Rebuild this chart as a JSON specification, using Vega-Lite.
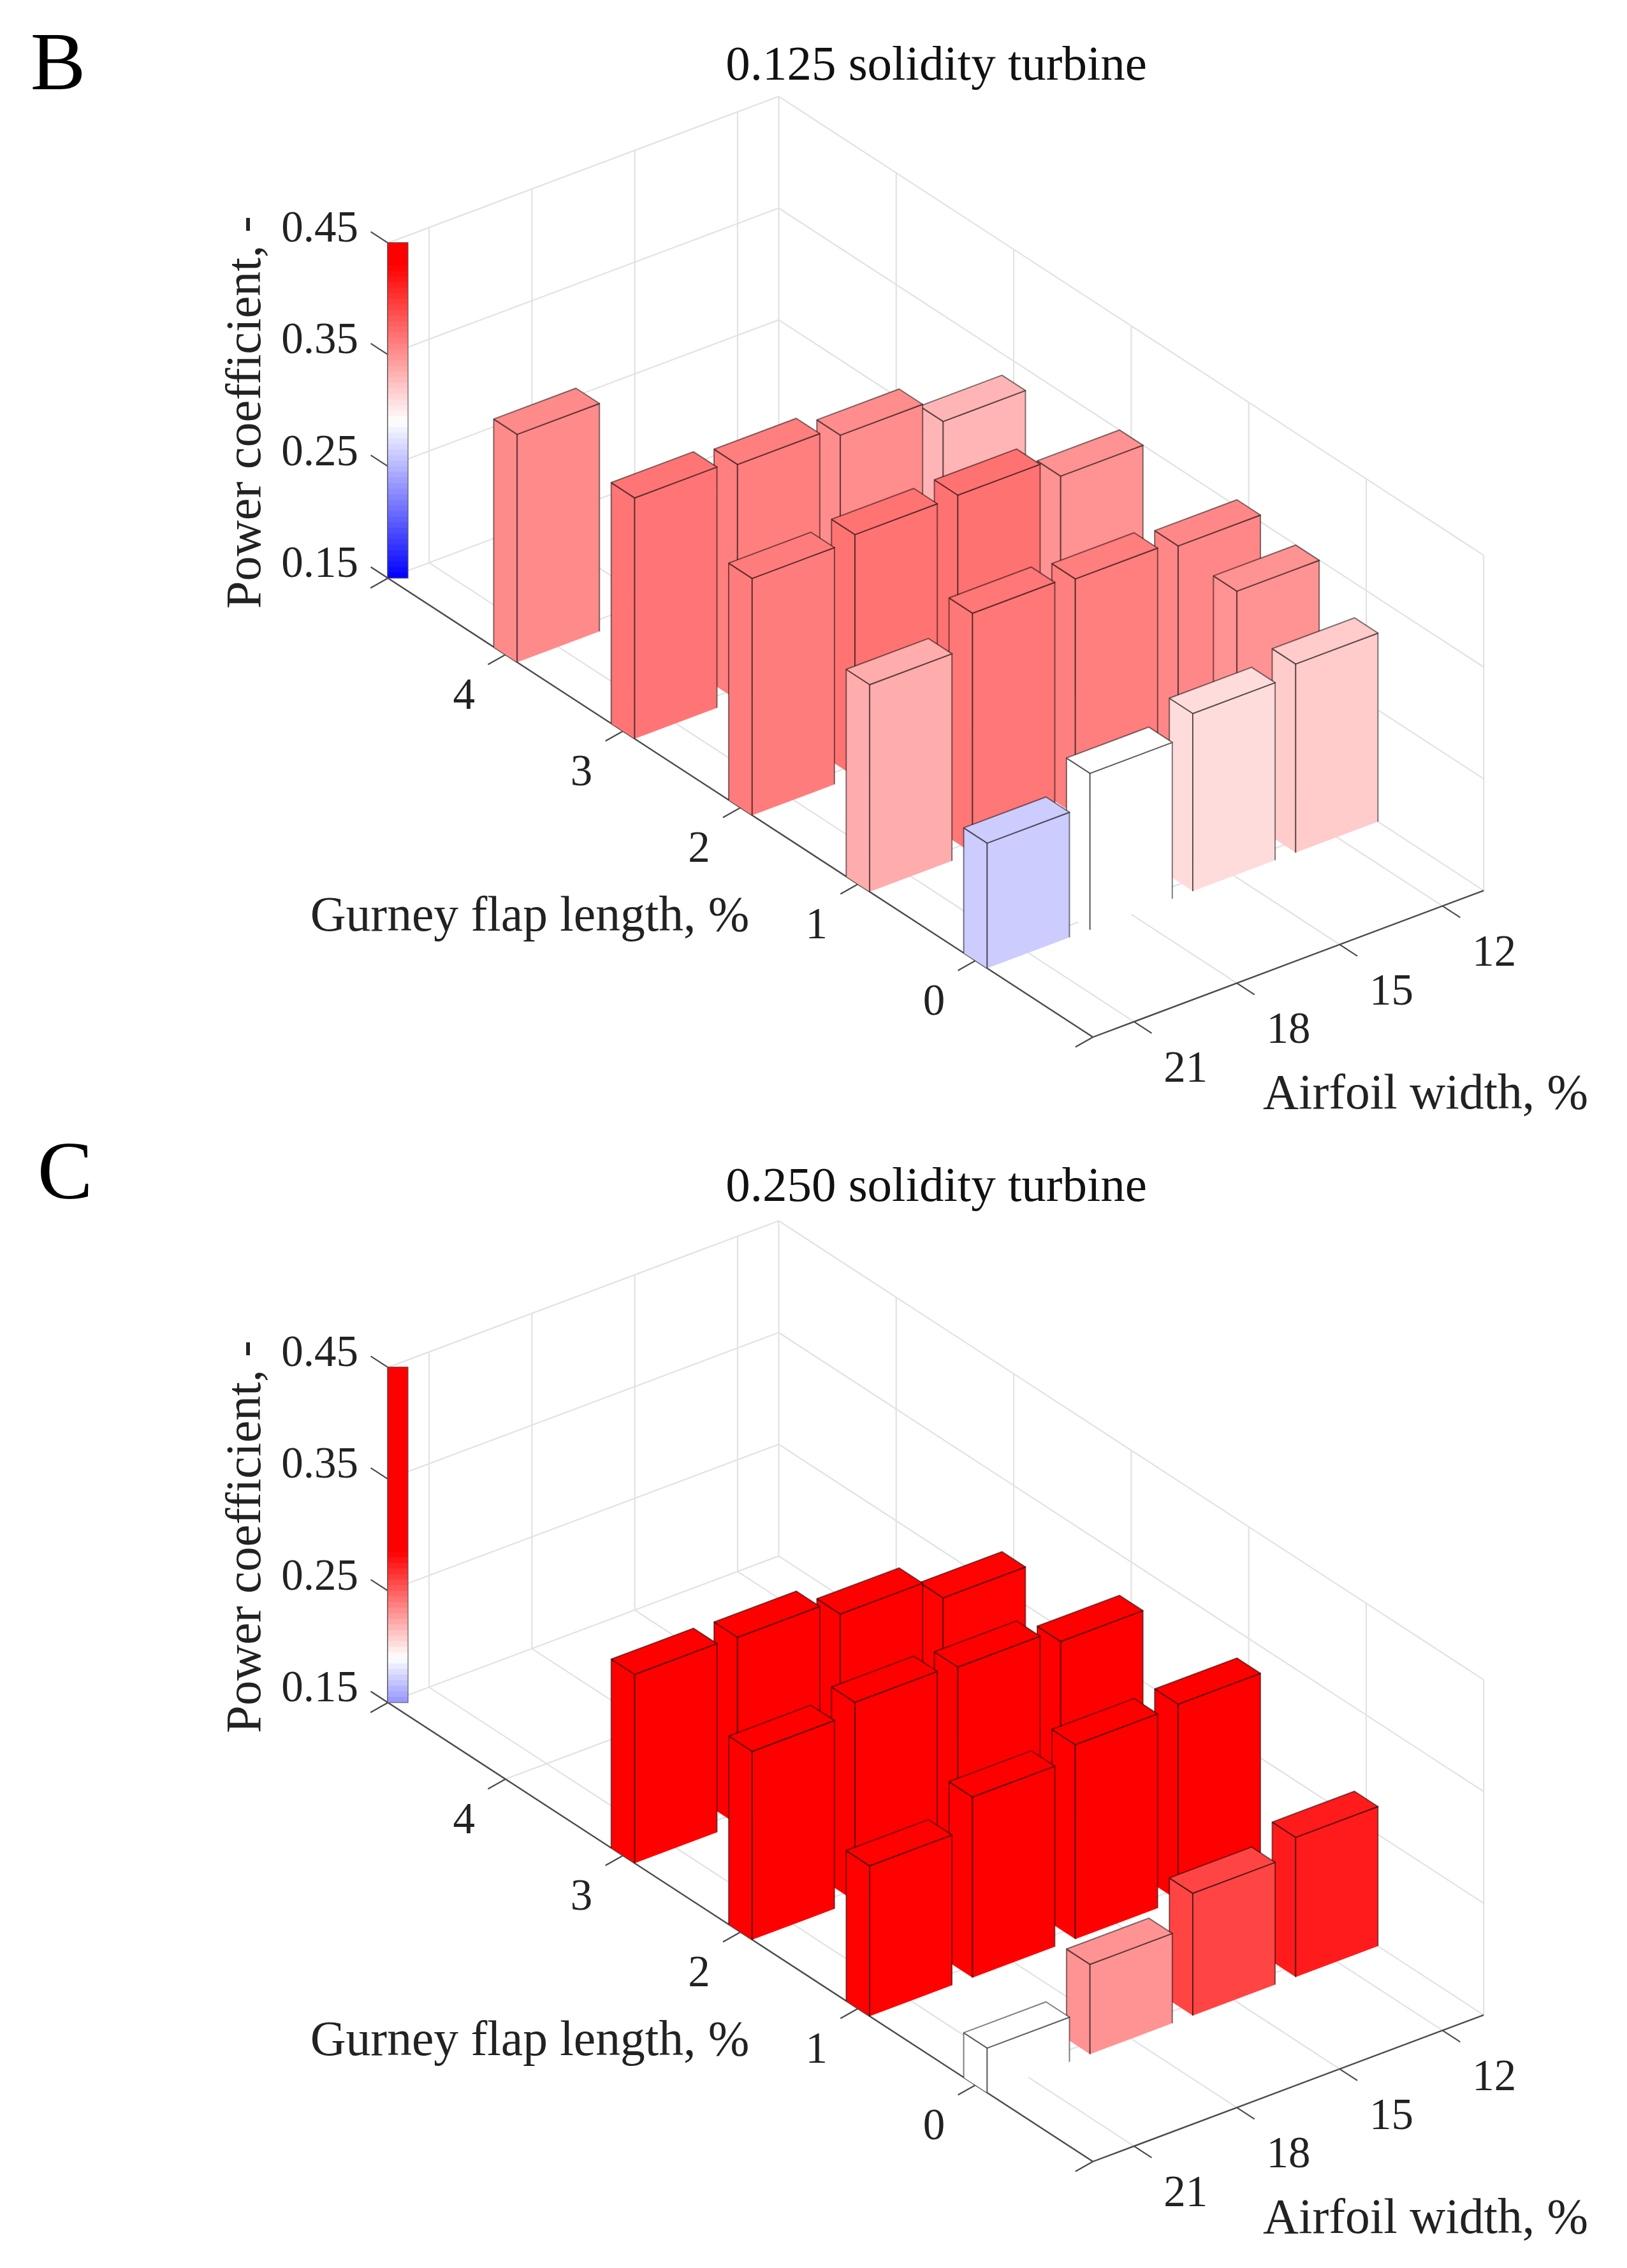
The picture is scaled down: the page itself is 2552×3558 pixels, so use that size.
{
"$schema":"https://vega.github.io/schema/vega-lite/v6.json",
"width":2552,"height":3558,"padding":0,
"autosize":{"type":"fit","contains":"padding"},
"background":"white",
"config":{"view":{"stroke":null}},
"datasets":{
"bars":[
{"panel":"B","gurney":4,"width":21,"cp":0.354},
{"panel":"B","gurney":3,"width":12,"cp":0.3305},
{"panel":"B","gurney":3,"width":15,"cp":0.3527},
{"panel":"B","gurney":3,"width":18,"cp":0.361},
{"panel":"B","gurney":3,"width":21,"cp":0.3656},
{"panel":"B","gurney":2,"width":12,"cp":0.35},
{"panel":"B","gurney":2,"width":15,"cp":0.3675},
{"panel":"B","gurney":2,"width":18,"cp":0.3667},
{"panel":"B","gurney":2,"width":21,"cp":0.362},
{"panel":"B","gurney":1,"width":12,"cp":0.356},
{"panel":"B","gurney":1,"width":15,"cp":0.361},
{"panel":"B","gurney":1,"width":18,"cp":0.3648},
{"panel":"B","gurney":1,"width":21,"cp":0.3354},
{"panel":"B","gurney":0.5,"width":12,"cp":0.3497},
{"panel":"B","gurney":0,"width":12,"cp":0.3188},
{"panel":"B","gurney":0,"width":15,"cp":0.309},
{"panel":"B","gurney":0,"width":18,"cp":0.29},
{"panel":"B","gurney":0,"width":21,"cp":0.262},
{"panel":"C","gurney":3,"width":12,"cp":0.284},
{"panel":"C","gurney":3,"width":15,"cp":0.304},
{"panel":"C","gurney":3,"width":18,"cp":0.3177},
{"panel":"C","gurney":3,"width":21,"cp":0.319},
{"panel":"C","gurney":2,"width":12,"cp":0.3134},
{"panel":"C","gurney":2,"width":15,"cp":0.325},
{"panel":"C","gurney":2,"width":18,"cp":0.328},
{"panel":"C","gurney":2,"width":21,"cp":0.3186},
{"panel":"C","gurney":1,"width":12,"cp":0.3257},
{"panel":"C","gurney":1,"width":15,"cp":0.324},
{"panel":"C","gurney":1,"width":18,"cp":0.3117},
{"panel":"C","gurney":1,"width":21,"cp":0.2846},
{"panel":"C","gurney":0,"width":12,"cp":0.275},
{"panel":"C","gurney":0,"width":15,"cp":0.2595},
{"panel":"C","gurney":0,"width":18,"cp":0.2304},
{"panel":"C","gurney":0,"width":21,"cp":0.19}
],
"grid":[
{"g1":0,"i1":-0.4,"z1":0.15,"g2":0,"i2":3.4,"z2":0.15},
{"g1":1,"i1":-0.4,"z1":0.15,"g2":1,"i2":3.4,"z2":0.15},
{"g1":2,"i1":-0.4,"z1":0.15,"g2":2,"i2":3.4,"z2":0.15},
{"g1":3,"i1":-0.4,"z1":0.15,"g2":3,"i2":3.4,"z2":0.15},
{"g1":4,"i1":-0.4,"z1":0.15,"g2":4,"i2":3.4,"z2":0.15},
{"g1":-1,"i1":0,"z1":0.15,"g2":5,"i2":0,"z2":0.15},
{"g1":-1,"i1":1,"z1":0.15,"g2":5,"i2":1,"z2":0.15},
{"g1":-1,"i1":2,"z1":0.15,"g2":5,"i2":2,"z2":0.15},
{"g1":-1,"i1":3,"z1":0.15,"g2":5,"i2":3,"z2":0.15},
{"g1":5,"i1":-0.4,"z1":0.15,"g2":5,"i2":3.4,"z2":0.15},
{"g1":5,"i1":-0.4,"z1":0.25,"g2":5,"i2":3.4,"z2":0.25},
{"g1":5,"i1":-0.4,"z1":0.35,"g2":5,"i2":3.4,"z2":0.35},
{"g1":5,"i1":-0.4,"z1":0.45,"g2":5,"i2":3.4,"z2":0.45},
{"g1":5,"i1":3.4,"z1":0.15,"g2":-1,"i2":3.4,"z2":0.15},
{"g1":5,"i1":3.4,"z1":0.25,"g2":-1,"i2":3.4,"z2":0.25},
{"g1":5,"i1":3.4,"z1":0.35,"g2":-1,"i2":3.4,"z2":0.35},
{"g1":5,"i1":3.4,"z1":0.45,"g2":-1,"i2":3.4,"z2":0.45},
{"g1":5,"i1":0,"z1":0.15,"g2":5,"i2":0,"z2":0.45},
{"g1":5,"i1":1,"z1":0.15,"g2":5,"i2":1,"z2":0.45},
{"g1":5,"i1":2,"z1":0.15,"g2":5,"i2":2,"z2":0.45},
{"g1":5,"i1":3,"z1":0.15,"g2":5,"i2":3,"z2":0.45},
{"g1":5,"i1":3.4,"z1":0.15,"g2":5,"i2":3.4,"z2":0.45},
{"g1":4,"i1":3.4,"z1":0.15,"g2":4,"i2":3.4,"z2":0.45},
{"g1":3,"i1":3.4,"z1":0.15,"g2":3,"i2":3.4,"z2":0.45},
{"g1":2,"i1":3.4,"z1":0.15,"g2":2,"i2":3.4,"z2":0.45},
{"g1":1,"i1":3.4,"z1":0.15,"g2":1,"i2":3.4,"z2":0.45},
{"g1":0,"i1":3.4,"z1":0.15,"g2":0,"i2":3.4,"z2":0.45},
{"g1":-1,"i1":3.4,"z1":0.15,"g2":-1,"i2":3.4,"z2":0.45}
],
"axes":[
{"g1":5,"i1":-0.4,"z1":0.15,"g2":-1,"i2":-0.4,"z2":0.15},
{"g1":-1,"i1":-0.4,"z1":0.15,"g2":-1,"i2":3.4,"z2":0.15},
{"g1":5,"i1":-0.4,"z1":0.15,"g2":5,"i2":-0.4,"z2":0.45}
],
"ticks":[
{"axis":"g","label":"","g":-1,"i":-0.4,"z":0.15},
{"axis":"g","label":"0","g":0,"i":-0.4,"z":0.15},
{"axis":"g","label":"1","g":1,"i":-0.4,"z":0.15},
{"axis":"g","label":"2","g":2,"i":-0.4,"z":0.15},
{"axis":"g","label":"3","g":3,"i":-0.4,"z":0.15},
{"axis":"g","label":"4","g":4,"i":-0.4,"z":0.15},
{"axis":"g","label":"","g":5,"i":-0.4,"z":0.15},
{"axis":"w","label":"21","g":-1,"i":0,"z":0.15},
{"axis":"w","label":"18","g":-1,"i":1,"z":0.15},
{"axis":"w","label":"15","g":-1,"i":2,"z":0.15},
{"axis":"w","label":"12","g":-1,"i":3,"z":0.15},
{"axis":"z","label":"0.15","g":5,"i":-0.4,"z":0.15},
{"axis":"z","label":"0.25","g":5,"i":-0.4,"z":0.25},
{"axis":"z","label":"0.35","g":5,"i":-0.4,"z":0.35},
{"axis":"z","label":"0.45","g":5,"i":-0.4,"z":0.45}
],
"colorbar":[
{"cp":0.15},{"cp":0.155},{"cp":0.16},{"cp":0.165},{"cp":0.17},{"cp":0.175},{"cp":0.18},{"cp":0.185},{"cp":0.19},{"cp":0.195},
{"cp":0.2},{"cp":0.205},{"cp":0.21},{"cp":0.215},{"cp":0.22},{"cp":0.225},{"cp":0.23},{"cp":0.235},{"cp":0.24},{"cp":0.245},
{"cp":0.25},{"cp":0.255},{"cp":0.26},{"cp":0.265},{"cp":0.27},{"cp":0.275},{"cp":0.28},{"cp":0.285},{"cp":0.29},{"cp":0.295},
{"cp":0.3},{"cp":0.305},{"cp":0.31},{"cp":0.315},{"cp":0.32},{"cp":0.325},{"cp":0.33},{"cp":0.335},{"cp":0.34},{"cp":0.345},
{"cp":0.35},{"cp":0.355},{"cp":0.36},{"cp":0.365},{"cp":0.37},{"cp":0.375},{"cp":0.38},{"cp":0.385},{"cp":0.39},{"cp":0.395},
{"cp":0.4},{"cp":0.405},{"cp":0.41},{"cp":0.415},{"cp":0.42},{"cp":0.425},{"cp":0.43},{"cp":0.435},{"cp":0.44},{"cp":0.445}
],
"panels":[
{"panel":"B","title":"0.125 solidity turbine","letter":"B","gurneyTitle":"Gurney flap length, %","widthTitle":"Airfoil width, %","powerTitle":"Power coefficient, -"},
{"panel":"C","title":"0.250 solidity turbine","letter":"C","gurneyTitle":"Gurney flap length, %","widthTitle":"Airfoil width, %","powerTitle":"Power coefficient, -"}
]
},
"encoding":{
"x":{"field":"sx","type":"quantitative","axis":null,"scale":{"domain":[0,2552],"nice":false,"zero":false}},
"y":{"field":"sy","type":"quantitative","axis":null,"scale":{"domain":[3558,0],"nice":false,"zero":false}}
},
"layer":[
{"data":{"name":"grid"},
"transform":[
{"calculate":"['B','C']","as":"panel"},{"flatten":["panel"]},
{"calculate":"datum.panel=='C'?1764:0","as":"off"},
{"calculate":"1530-184.3*datum.g1+161.3*(datum.i1+0.4)","as":"sx"},
{"calculate":"datum.off+1507-120*datum.g1-60.5*(datum.i1+0.4)-1753*(datum.z1-0.15)","as":"sy"},
{"calculate":"1530-184.3*datum.g2+161.3*(datum.i2+0.4)","as":"sx2"},
{"calculate":"datum.off+1507-120*datum.g2-60.5*(datum.i2+0.4)-1753*(datum.z2-0.15)","as":"sy2"}],
"mark":{"type":"rule","color":"#e2e2e2","strokeWidth":2.2},
"encoding":{"x2":{"field":"sx2"},"y2":{"field":"sy2"}}},
{"data":{"name":"axes"},
"transform":[
{"calculate":"['B','C']","as":"panel"},{"flatten":["panel"]},
{"calculate":"datum.panel=='C'?1764:0","as":"off"},
{"calculate":"1530-184.3*datum.g1+161.3*(datum.i1+0.4)","as":"sx"},
{"calculate":"datum.off+1507-120*datum.g1-60.5*(datum.i1+0.4)-1753*(datum.z1-0.15)","as":"sy"},
{"calculate":"1530-184.3*datum.g2+161.3*(datum.i2+0.4)","as":"sx2"},
{"calculate":"datum.off+1507-120*datum.g2-60.5*(datum.i2+0.4)-1753*(datum.z2-0.15)","as":"sy2"}],
"mark":{"type":"rule","color":"#4a4a4a","strokeWidth":2.4},
"encoding":{"x2":{"field":"sx2"},"y2":{"field":"sy2"}}},
{"data":{"name":"ticks"},
"transform":[
{"calculate":"['B','C']","as":"panel"},{"flatten":["panel"]},
{"calculate":"datum.panel=='C'?1764:0","as":"off"},
{"calculate":"datum.g+(datum.axis=='z'?0.146:datum.axis=='w'?-0.15:0)","as":"g2"},
{"calculate":"datum.i+(datum.axis=='g'?-0.17:0)","as":"i2"},
{"calculate":"datum.z+(datum.axis=='g'?-0.003:0)","as":"z2"},
{"calculate":"1530-184.3*datum.g+161.3*(datum.i+0.4)","as":"sx"},
{"calculate":"datum.off+1507-120*datum.g-60.5*(datum.i+0.4)-1753*(datum.z-0.15)","as":"sy"},
{"calculate":"1530-184.3*datum.g2+161.3*(datum.i2+0.4)","as":"sx2"},
{"calculate":"datum.off+1507-120*datum.g2-60.5*(datum.i2+0.4)-1753*(datum.z2-0.15)","as":"sy2"}],
"mark":{"type":"rule","color":"#4a4a4a","strokeWidth":2.2},
"encoding":{"x2":{"field":"sx2"},"y2":{"field":"sy2"}}},
{"data":{"name":"bars"},
"transform":[
{"calculate":"datum.panel=='C'?1764:0","as":"off"},
{"calculate":"(21-datum.width)/3","as":"i"},
{"calculate":"datum.panel=='B'?(datum.cp-0.29)/0.14:(datum.cp-0.19)/0.095","as":"c"},
{"calculate":"[0,1,2,3,4,5,6,7,8,9,10,11,12]","as":"k"},{"flatten":["k"]},
{"calculate":"[0,0,0,0,1,1,1,1,2,2,2,2,2][datum.k]","as":"face"},
{"calculate":"[0.1,0.1,-0.1,-0.1,-0.1,-0.1,-0.1,-0.1,0.1,-0.1,-0.1,0.1,0.1][datum.k]","as":"vg"},
{"calculate":"[-0.4,-0.4,-0.4,-0.4,-0.4,-0.4,0.4,0.4,-0.4,-0.4,0.4,0.4,-0.4][datum.k]","as":"vi"},
{"calculate":"[0,1,1,0,0,1,1,0,1,1,1,1,1][datum.k]","as":"up"},
{"calculate":"'f'+datum.panel+'_'+datum.gurney+'_'+datum.width+'_'+datum.face","as":"facet"},
{"calculate":"1530-184.3*(datum.gurney+datum.vg)+161.3*(datum.i+datum.vi+0.4)","as":"sx"},
{"calculate":"datum.off+1507-120*(datum.gurney+datum.vg)-60.5*(datum.i+datum.vi+0.4)-1753*datum.up*(datum.cp-0.15)","as":"sy"}],
"mark":{"type":"line","stroke":"#000000","strokeOpacity":0.5,"strokeWidth":2,"strokeJoin":"round","interpolate":"linear"},
"encoding":{
"detail":{"field":"facet","type":"nominal"},
"order":{"field":"k","type":"quantitative"},
"fill":{"field":"c","type":"quantitative","legend":null,"scale":{"domain":[-1,0,1],"range":["#0000ff","#ffffff","#ff0000"],"interpolate":"rgb","clamp":true}}}},
{"data":{"name":"colorbar"},
"transform":[
{"calculate":"['B','C']","as":"panel"},{"flatten":["panel"]},
{"calculate":"datum.panel=='C'?1764:0","as":"off"},
{"calculate":"datum.panel=='B'?(datum.cp+0.0025-0.29)/0.14:(datum.cp+0.0025-0.19)/0.095","as":"c"},
{"calculate":"608","as":"sx"},
{"calculate":"640","as":"sx2"},
{"calculate":"datum.off+907-1753*(datum.cp-0.15)","as":"sy"},
{"calculate":"datum.off+907-1753*(datum.cp+0.0056-0.15)","as":"sy2"}],
"mark":{"type":"rect"},
"encoding":{"x2":{"field":"sx2"},"y2":{"field":"sy2"},
"fill":{"field":"c","type":"quantitative","legend":null,"scale":{"domain":[-1,0,1],"range":["#0000ff","#ffffff","#ff0000"],"interpolate":"rgb","clamp":true}}}},
{"data":{"name":"panels"},
"transform":[
{"calculate":"datum.panel=='C'?1764:0","as":"off"},
{"calculate":"608","as":"sx"},{"calculate":"640","as":"sx2"},
{"calculate":"datum.off+907","as":"sy"},{"calculate":"datum.off+381","as":"sy2"}],
"mark":{"type":"rect","fillOpacity":0,"stroke":"#555555","strokeWidth":1.6,"strokeOpacity":0.7},
"encoding":{"x2":{"field":"sx2"},"y2":{"field":"sy2"}}},
{"data":{"name":"ticks"},
"transform":[{"filter":"datum.axis=='g'&&datum.label!=''"},
{"calculate":"['B','C']","as":"panel"},{"flatten":["panel"]},
{"calculate":"datum.panel=='C'?1764:0","as":"off"},
{"calculate":"1530-184.3*datum.g+161.3*(datum.i+0.4)","as":"sx"},
{"calculate":"datum.off+1507-120*datum.g-60.5*(datum.i+0.4)-1753*(datum.z-0.15)","as":"sy"}],
"mark":{"type":"text","font":"Liberation Serif","fontSize":69,"color":"#222222","align":"center","baseline":"middle","dx":-65,"dy":64},
"encoding":{"text":{"field":"label"}}},
{"data":{"name":"ticks"},
"transform":[{"filter":"datum.axis=='w'"},
{"calculate":"['B','C']","as":"panel"},{"flatten":["panel"]},
{"calculate":"datum.panel=='C'?1764:0","as":"off"},
{"calculate":"1530-184.3*datum.g+161.3*(datum.i+0.4)","as":"sx"},
{"calculate":"datum.off+1507-120*datum.g-60.5*(datum.i+0.4)-1753*(datum.z-0.15)","as":"sy"}],
"mark":{"type":"text","font":"Liberation Serif","fontSize":69,"color":"#222222","align":"center","baseline":"middle","dx":81,"dy":73},
"encoding":{"text":{"field":"label"}}},
{"data":{"name":"ticks"},
"transform":[{"filter":"datum.axis=='z'"},
{"calculate":"['B','C']","as":"panel"},{"flatten":["panel"]},
{"calculate":"datum.panel=='C'?1764:0","as":"off"},
{"calculate":"1530-184.3*datum.g+161.3*(datum.i+0.4)","as":"sx"},
{"calculate":"datum.off+1507-120*datum.g-60.5*(datum.i+0.4)-1753*(datum.z-0.15)","as":"sy"}],
"mark":{"type":"text","font":"Liberation Serif","fontSize":69,"color":"#222222","align":"center","baseline":"middle","dx":-107,"dy":-23},
"encoding":{"text":{"field":"label"}}},
{"data":{"name":"panels"},
"transform":[
{"calculate":"datum.panel=='C'?1759:0","as":"off"},
{"calculate":"1220.6","as":"sx"},{"calculate":"datum.off+151","as":"sy"}],
"mark":{"type":"text","font":"Liberation Serif","fontSize":77,"color":"#111111","align":"center","baseline":"middle","dx":248,"dy":-49},
"encoding":{"text":{"field":"title"}}},
{"data":{"name":"panels"},
"transform":[
{"calculate":"datum.panel=='C'?1764:0","as":"off"},
{"calculate":"1530","as":"sx"},{"calculate":"datum.off+1507","as":"sy"}],
"mark":{"type":"text","font":"Liberation Serif","fontSize":77.5,"color":"#222222","align":"center","baseline":"middle","dx":-699,"dy":-70},
"encoding":{"text":{"field":"gurneyTitle"}}},
{"data":{"name":"panels"},
"transform":[
{"calculate":"datum.panel=='C'?1764:0","as":"off"},
{"calculate":"1714","as":"sx"},{"calculate":"datum.off+1627","as":"sy"}],
"mark":{"type":"text","font":"Liberation Serif","fontSize":77.5,"color":"#222222","align":"center","baseline":"middle","dx":522,"dy":89},
"encoding":{"text":{"field":"widthTitle"}}},
{"data":{"name":"panels"},
"transform":[
{"calculate":"datum.panel=='C'?1764:0","as":"off"},
{"calculate":"607","as":"sx"},{"calculate":"datum.off+382","as":"sy"}],
"mark":{"type":"text","font":"Liberation Serif","fontSize":78,"color":"#222222","align":"center","baseline":"middle","angle":270,"dx":-265,"dy":-222},
"encoding":{"text":{"field":"powerTitle"}}},
{"data":{"name":"panels"},
"transform":[{"filter":"datum.panel=='B'"},
{"calculate":"607","as":"sx"},{"calculate":"382","as":"sy"}],
"mark":{"type":"text","font":"Liberation Serif","fontSize":130,"color":"#000000","align":"center","baseline":"middle","dx":-516,"dy":-281},
"encoding":{"text":{"field":"letter"}}},
{"data":{"name":"panels"},
"transform":[{"filter":"datum.panel=='C'"},
{"calculate":"607","as":"sx"},{"calculate":"2146","as":"sy"}],
"mark":{"type":"text","font":"Liberation Serif","fontSize":130,"color":"#000000","align":"center","baseline":"middle","dx":-505,"dy":-305},
"encoding":{"text":{"field":"letter"}}}
]
}
